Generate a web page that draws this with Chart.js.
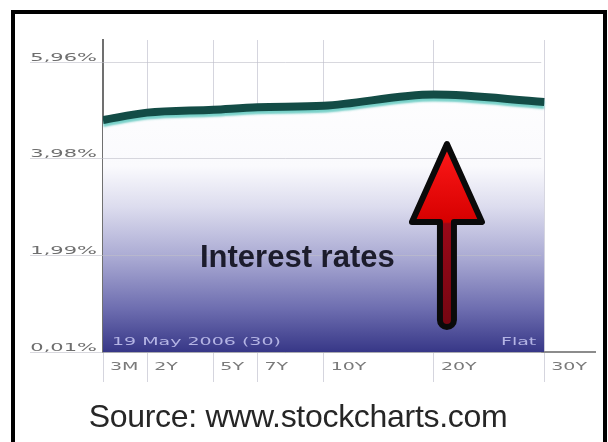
<!DOCTYPE html>
<html>
<head>
<meta charset="utf-8">
<script src="https://cdn.jsdelivr.net/npm/chart.js@4.4.1/dist/chart.umd.min.js"></script>
<style>
  html, body { margin: 0; padding: 0; background: #fff; }
  #wrap { position: relative; width: 608px; height: 442px; overflow: hidden; }
  #frame { position: absolute; left: 11px; top: 10px; width: 588px; height: 440px;
           border: 4px solid #000; border-bottom: none; pointer-events: none; }
  #source { position: absolute; left: 0; top: 398px; width: 596px; text-align: center;
            font: 32px "Liberation Sans", Arial, sans-serif; color: #262626; letter-spacing: -0.3px; }
</style>
</head>
<body>
<div id="wrap">
  <canvas id="myChart" width="608" height="442"></canvas>
  <div id="frame"></div>
  <div id="source">Source: www.stockcharts.com</div>
</div>
<script>
// yield curve, 19 May 2006
const tenorLabels = ['3M', '2Y', '5Y', '7Y', '10Y', '20Y', '30Y'];
const tenorPos = [0, 2, 5, 7, 10, 15, 20];   // compressed maturity axis
const yields = [4.77, 4.92, 4.98, 5.03, 5.06, 5.29, 5.14];
const yTicks = [0.01, 1.99, 3.98, 5.96];
const yTickLabels = ['0,01%', '1,99%', '3,98%', '5,96%'];
const curveDate = '19 May 2006 (30)';
const curveShape = 'Flat';

const points = tenorPos.map((x, i) => ({ x: x, y: yields[i] }));

function navyFade(c) {
  const chart = c.chart;
  const area = chart.chartArea;
  if (!area) return '#8080c0';
  const top = chart.scales.y.getPixelForValue(yTicks[3]);
  const g = chart.ctx.createLinearGradient(0, top, 0, area.bottom);
  g.addColorStop(0, '#ffffff');
  g.addColorStop(0.36, '#fafafd');
  g.addColorStop(0.5, '#dcdcee');
  g.addColorStop(0.68, '#a8a8d2');
  g.addColorStop(0.85, '#6e6eb0');
  g.addColorStop(1, '#373787');
  return g;
}

function stretchText(ctx, text, x, y, align, sx) {
  ctx.save();
  ctx.translate(x, y);
  ctx.scale(sx, 1);
  ctx.textAlign = align;
  ctx.textBaseline = 'middle';
  ctx.fillText(text, 0, 0);
  ctx.restore();
}

const decor = {
  id: 'decor',
  beforeDatasetDraw(chart, args) {
    if (args.index !== 1) return;
    const ctx = chart.ctx;
    ctx.save();
    ctx.shadowColor = 'rgba(95,200,190,0.85)';
    ctx.shadowOffsetY = 3;
    ctx.shadowBlur = 2;
  },
  afterDatasetDraw(chart, args) {
    if (args.index === 1) chart.ctx.restore();
  },
  afterDatasetsDraw(chart) {
    const ctx = chart.ctx;
    const xs = chart.scales.x, ys = chart.scales.y;
    const right = xs.getPixelForValue(tenorPos[tenorPos.length - 1]) - 3;
    ctx.save();
    ctx.strokeStyle = 'rgba(190,190,200,0.6)';
    ctx.lineWidth = 1;
    yTicks.forEach(v => {
      const y = Math.round(ys.getPixelForValue(v)) + 0.5;
      ctx.beginPath();
      ctx.moveTo(30, y);
      ctx.lineTo(right, y);
      ctx.stroke();
    });
    ctx.restore();
  },
  afterDraw(chart) {
    const ctx = chart.ctx;
    const xs = chart.scales.x, ys = chart.scales.y;
    const area = chart.chartArea;

    // axis labels
    ctx.save();
    ctx.font = '10px "DejaVu Sans"';
    ctx.fillStyle = '#6e6e6e';
    yTicks.forEach((v, i) => {
      stretchText(ctx, yTickLabels[i], area.left - 6, ys.getPixelForValue(v) - 4, 'right', 2.1);
    });
    ctx.fillStyle = '#7a7a7a';
    tenorPos.forEach((p, i) => {
      stretchText(ctx, tenorLabels[i], xs.getPixelForValue(p) + 7, area.bottom + 15, 'left', 1.9);
    });
    ctx.fillStyle = '#b4b4e4';
    stretchText(ctx, curveDate, area.left + 9, area.bottom - 10, 'left', 1.9);
    stretchText(ctx, curveShape, xs.getPixelForValue(tenorPos[6]) - 8, area.bottom - 10, 'right', 1.9);
    ctx.restore();

    // arrow
    const cx = xs.getPixelForValue(tenorPos[5]) + 13;
    const tipY = 144, baseY = 222, halfHead = 35, halfShaft = 7, bottom = 320;
    ctx.save();
    ctx.beginPath();
    ctx.moveTo(cx, tipY);
    ctx.lineTo(cx + halfHead, baseY);
    ctx.lineTo(cx + halfShaft, baseY);
    ctx.lineTo(cx + halfShaft, bottom);
    ctx.arc(cx, bottom, halfShaft, 0, Math.PI);
    ctx.lineTo(cx - halfShaft, baseY);
    ctx.lineTo(cx - halfHead, baseY);
    ctx.closePath();
    const g = ctx.createLinearGradient(0, tipY, 0, bottom);
    const f = (baseY - tipY) / (bottom - tipY);
    g.addColorStop(0, '#ff1a1a');
    g.addColorStop(f, '#d60000');
    g.addColorStop(f + 0.01, '#9a0818');
    g.addColorStop(1, '#760612');
    ctx.fillStyle = g;
    ctx.fill();
    ctx.lineJoin = 'round';
    ctx.lineWidth = 6;
    ctx.strokeStyle = '#0a0a0a';
    ctx.stroke();
    ctx.restore();

    // caption
    ctx.save();
    ctx.font = 'bold 31px "Liberation Sans", Arial, sans-serif';
    ctx.fillStyle = '#1c1c2c';
    ctx.textAlign = 'left';
    ctx.textBaseline = 'middle';
    ctx.fillText('Interest rates', 200, 258, 197);
    ctx.restore();
  }
};

const ctx = document.getElementById('myChart');

new Chart(ctx, {
  type: 'line',
  data: {
    datasets: [{
      data: points,
      order: 2,
      borderWidth: 0,
      pointRadius: 0,
      fill: 'start',
      backgroundColor: navyFade,
      cubicInterpolationMode: 'monotone'
    }, {
      data: points,
      order: 1,
      borderColor: '#134c46',
      borderWidth: 8,
      pointRadius: 0,
      fill: false,
      cubicInterpolationMode: 'monotone'
    }]
  },
  options: {
    responsive: false,
    animation: false,
    events: [],
    layout: { padding: { top: 40, right: 13, left: 0, bottom: 0 } },
    plugins: { legend: { display: false }, tooltip: { enabled: false } },
    scales: {
      x: {
        type: 'linear',
        min: 0,
        max: 22.3,
        z: 1,
        afterBuildTicks: s => { s.ticks = tenorPos.map(v => ({ value: v })); },
        afterFit: s => { s.height = 90; },
        ticks: { display: false },
        grid: { color: 'rgba(185,185,200,0.6)', lineWidth: 1, tickLength: 30 },
        border: { color: '#8c8c8c', width: 2 }
      },
      y: {
        min: 0.01,
        max: 6.41,
        afterBuildTicks: s => { s.ticks = yTicks.map(v => ({ value: v })); },
        afterFit: s => { s.width = 103; },
        ticks: { display: false },
        grid: { display: false },
        border: { color: '#707070', width: 2 }
      }
    }
  },
  plugins: [decor]
});
</script>
</body>
</html>
